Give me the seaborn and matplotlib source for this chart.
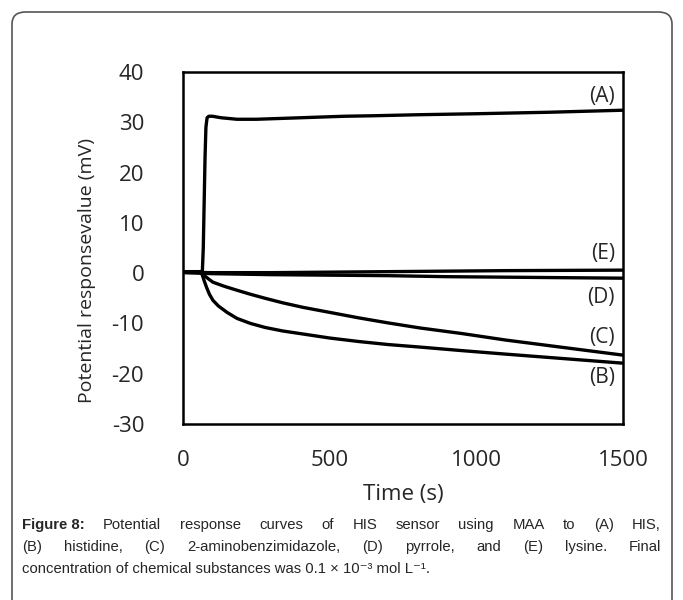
import numpy as np
import pandas as pd
import matplotlib
matplotlib.use("Agg")
import matplotlib.pyplot as plt
import seaborn as sns
from matplotlib.patches import FancyBboxPatch

# values (time in s, potential in mV)
t_a = [0, 60, 66, 69, 72, 75, 78, 82, 88, 100, 130, 184, 250, 350, 450, 550, 650, 800, 1000, 1250, 1500]
v_a = [0.3, 0.3, 0.5, 5, 14, 23, 29, 30.9, 31.2, 31.2, 30.9, 30.6, 30.6, 30.8, 31.0, 31.2, 31.3, 31.5, 31.7, 32.0, 32.4]

t_b = [0, 60, 66, 72, 80, 90, 102, 120, 150, 184, 230, 280, 340, 409, 500, 600, 700, 808, 950, 1100, 1300, 1500]
v_b = [0.2, 0.2, -0.4, -1.5, -2.8, -4.2, -5.4, -6.5, -7.8, -9.0, -10.0, -10.8, -11.5, -12.1, -12.9, -13.6, -14.2, -14.7, -15.4, -16.1, -17.0, -17.9]

t_c = [0, 60, 66, 75, 88, 102, 140, 184, 230, 280, 340, 409, 500, 600, 700, 808, 950, 1100, 1300, 1500]
v_c = [0.2, 0.2, -0.1, -0.6, -1.2, -1.8, -2.6, -3.4, -4.2, -5.0, -5.9, -6.8, -7.8, -8.9, -9.9, -10.9, -12.0, -13.3, -14.8, -16.3]

t_d = [0, 100, 300, 500, 700, 900, 1100, 1300, 1500]
v_d = [0.1, -0.1, -0.3, -0.4, -0.5, -0.7, -0.8, -0.9, -1.0]

t_e = [0, 100, 300, 500, 700, 900, 1100, 1300, 1500]
v_e = [0.2, 0.1, 0.1, 0.2, 0.3, 0.4, 0.5, 0.55, 0.6]

curve_names = ["(A)", "(B)", "(C)", "(D)", "(E)"]
label_y = [35.2, -20.7, -12.7, -4.8, 4.0]

x_ticks = [0, 500, 1000, 1500]
y_ticks = [-30, -20, -10, 0, 10, 20, 30, 40]

caption_lines = [
    ["Potential", "response", "curves", "of", "HIS", "sensor", "using", "MAA", "to", "(A)", "HIS,"],
    ["(B)", "histidine,", "(C)", "2-aminobenzimidazole,", "(D)", "pyrrole,", "and", "(E)", "lysine.", "Final"],
]
caption_last = "concentration of chemical substances was 0.1 \u00d7 10\u207b\u00b3 mol L\u207b\u00b9."

frames = []
for name, t, v in zip(curve_names, [t_a, t_b, t_c, t_d, t_e], [v_a, v_b, v_c, v_d, v_e]):
    frames.append(pd.DataFrame({"time": t, "value": v, "curve": name}))
df = pd.concat(frames, ignore_index=True)

sns.set_style("white")
plt.rcParams["font.family"] = ["Open Sans", "DejaVu Sans"]
plt.rcParams["axes.unicode_minus"] = False

fig = plt.figure(figsize=(6.83, 6.0), dpi=100)
ax = fig.add_axes([0.268, 0.2933, 0.644, 0.5867])

sns.lineplot(data=df, x="time", y="value", units="curve", estimator=None,
             color="black", linewidth=2.4, ax=ax, legend=False)

for name, y in zip(curve_names, label_y):
    ax.text(1473, y, name, ha="right", va="center", fontsize=15)

ax.set_xlim(0, 1500)
ax.set_ylim(-30, 40)
ax.set_xticks(x_ticks)
ax.set_yticks(y_ticks)
ax.tick_params(direction="in", length=7, width=1.5, labelsize=16)
ax.tick_params(axis="x", pad=19)
ax.tick_params(axis="y", pad=28)
for s in ax.spines.values():
    s.set_linewidth(1.8)
    s.set_color("black")
ax.set_xlabel("Time (s)", fontsize=16, labelpad=9)
ax.set_ylabel("Potential responsevalue (mV)", fontsize=14)
ax.yaxis.set_label_coords(-0.198, 0.4375)

# rounded frame around the figure
frame = FancyBboxPatch((12 / 683, -0.05), 660 / 683, 1.03,
                       boxstyle="round,pad=0,rounding_size=0.02",
                       transform=fig.transFigure, fill=False,
                       edgecolor="#555555", linewidth=1.2)
fig.patches.append(frame)

# caption, justified lines
cap_font = ["Liberation Sans", "DejaVu Sans"]
cap_size = 10.7
x_left, x_right = 22 / 683, 661 / 683
line_y = [1 - 529 / 600, 1 - 551 / 600, 1 - 573 / 600]
renderer = fig.canvas.get_renderer()

for i, words in enumerate(caption_lines):
    items = []
    if i == 0:
        items.append(fig.text(0, line_y[i], "Figure 8:", fontsize=cap_size, fontweight="bold",
                              family=cap_font, va="baseline"))
    for w in words:
        items.append(fig.text(0, line_y[i], w, fontsize=cap_size, family=cap_font, va="baseline"))
    widths = [it.get_window_extent(renderer).width / fig.bbox.width for it in items]
    gap = (x_right - x_left - sum(widths)) / (len(items) - 1)
    x = x_left
    for it, w in zip(items, widths):
        it.set_x(x)
        x += w + gap

fig.text(x_left, line_y[2], caption_last, fontsize=cap_size, family=cap_font, va="baseline")

fig.savefig("out.png", dpi=100)
